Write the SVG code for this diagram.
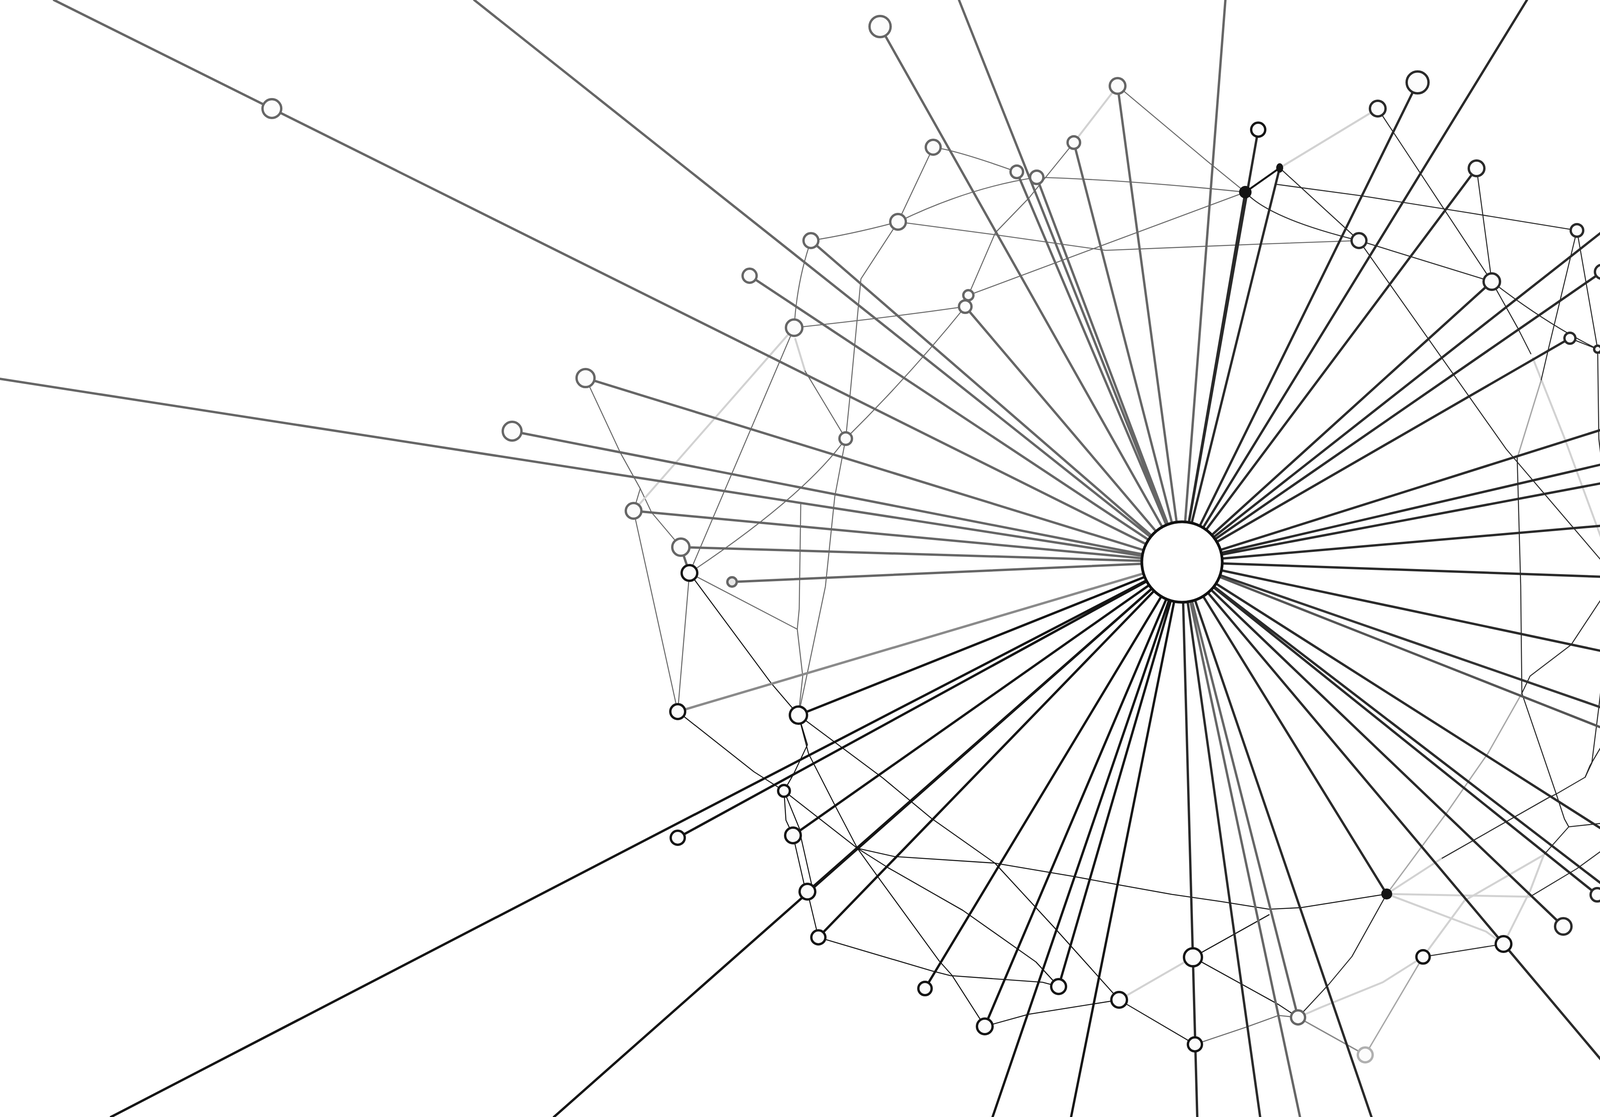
<svg xmlns="http://www.w3.org/2000/svg" width="5244" height="2860" viewBox="0 0 5244 2860">
<style>
.s{fill:none;stroke-linecap:round;stroke-linejoin:round}
.sg{stroke:#666;stroke-width:6}
.sd{stroke:#2a2a2a;stroke-width:6}
.sk{stroke:#151515;stroke-width:6}
.sl{stroke:#8a8a8a;stroke-width:6}
.eg{stroke:#6a6a6a;stroke-width:2.6}
.ed{stroke:#2a2a2a;stroke-width:2.6}
.ek{stroke:#151515;stroke-width:2.6}
.el{stroke:#d2d2d2;stroke-width:5}
.ea{stroke:#a8a8a8;stroke-width:3.5}
.n{stroke-width:6}
.ng{fill:#fcfcfc;stroke:#666}
.nd{fill:#fcfcfc;stroke:#2a2a2a}
.nk{fill:#fcfcfc;stroke:#151515}
.nb{fill:#151515;stroke:#151515}
.nl{fill:#fcfcfc;stroke:#b0b0b0}
</style>
<rect x="0" y="0" width="5244" height="2860" fill="#ffffff"/>
<g id="connectors">
<g id="web">
<path class="s eg" d="M2389 377Q2450 385 2603 440"/>
<path class="s eg" d="M2389 377L2299 568"/>
<path class="s eg" d="M2299 568Q2180 600 2076 616"/>
<path class="s eg" d="M2299 568Q2480 480 2654 454"/>
<path class="s eg" d="M2299 568L2540 600L2830 641L3225 625L3479 616"/>
<path class="s eg" d="M2076 616Q2040 720 2033 839"/>
<path class="s eg" d="M2033 839Q2260 815 2471 785"/>
<path class="s el" d="M2036 868L2061 950"/>
<path class="s eg" d="M2061 950L2165 1123"/>
<path class="s eg" d="M2033 839L1765 1467"/>
<path class="s eg" d="M2299 568L2204 714L2175 1024L2165 1123"/>
<path class="s eg" d="M2471 785Q2330 960 2165 1123"/>
<path class="s eg" d="M2749 365L2634 507L2548 596L2479 756"/>
<path class="s eg" d="M2861 220L3091 413L3188 492"/>
<path class="s eg" d="M2654 454Q2880 460 3188 492"/>
<path class="s eg" d="M2479 756L3188 492"/>
<path class="s eg" d="M1499 968L1588 1159L1639 1251L1668 1312L1743 1401"/>
<path class="s eg" d="M1639 1251L1622 1308"/>
<path class="s sg" d="M1743 1401L1765 1467"/>
<path class="s eg" d="M2165 1123Q2060 1270 1765 1467"/>
<path class="s eg" d="M1622 1308L1735 1822"/>
<path class="s eg" d="M1765 1467L1735 1822"/>
<path class="s eg" d="M2165 1123L2137 1272L2113 1502L2070 1708L2044 1831"/>
<path class="s eg" d="M2050 1290L2046 1559L2041 1611L2055 1731L2044 1831"/>
<path class="s eg" d="M1765 1467L2041 1611"/>
<path class="s el" d="M2861 220L2749 365"/>
<path class="s el" d="M2033 839L1622 1308"/>
<path class="s el" d="M3527 278L3276 430"/>
<path class="s ek" style="stroke-width:5" d="M3188 492L3276 430"/>
<path class="s ed" d="M3188 492Q3250 560 3479 616"/>
<path class="s ed" d="M3276 430L3479 616"/>
<path class="s ed" d="M3268 472L3483 501L3761 545L4037 590"/>
<path class="s ed" d="M3527 278L3819 721"/>
<path class="s ed" d="M3780 431L3819 721"/>
<path class="s ed" d="M3479 616L3819 721"/>
<path class="s ed" d="M3479 616L3856 1150L4136 1478"/>
<path class="s ed" d="M3819 721Q3960 830 4090 894"/>
<path class="s ed" d="M4037 590L4090 894"/>
<path class="s ed" d="M4090 894L4316 1032"/>
<path class="s ed" d="M4019 866L4090 894"/>
<path class="s ed" d="M4090 894L4261 1207"/>
<path class="s ed" d="M4316 1032L4261 1207"/>
<path class="s ed" d="M4316 1032L4317 1141"/>
<path class="s el" d="M4317 1160L4322 1296"/>
<path class="s ed" d="M4090 894L4093 1124L4136 1478"/>
<path class="s ed" d="M3819 721L3885 839L3919 906"/>
<path class="s el" d="M3924 917L4006 1124L4136 1478"/>
<path class="s ed" style="stroke-width:4.5" d="M4136 1478L4338 1502"/>
<path class="s ed" d="M4333 1326L4338 1502"/>
<path class="s ed" d="M4136 1478L4228 1694"/>
<path class="s ed" d="M4338 1502L4228 1694"/>
<path class="s ed" d="M4228 1694L4366 1917"/>
<path class="s ed" d="M4228 1694L4213 2096"/>
<path class="s ed" d="M4366 1917L4310 1954L4213 2096"/>
<path class="s ed" d="M4228 1694L4127 1864L4070 1961L4058 1990"/>
<path class="s ed" d="M4037 590L3965 889L3945 975"/>
<path class="s ea" d="M3945 975L3884 1173"/>
<path class="s ed" d="M3884 1173L3893 1500L3896 1775"/>
<path class="s ea" d="M3896 1775L3809 1929L3770 1985L3703 2082L3550 2289"/>
<path class="s ed" d="M3896 1775L3984 2033"/>
<path class="s ed" d="M4136 1478L4113 1731L4100 1750L4093 1811L4075 1954L4058 1990L3984 2033"/>
<path class="s ed" d="M3984 2033L3963 2043L3689 2199"/>
<path class="s el" d="M3689 2199L3550 2289"/>
<path class="s ed" d="M4136 1478L4022 1651L3917 1731L3896 1775"/>
<path class="s ed" d="M3984 2033L4005 2097L4016 2117L4213 2096"/>
<path class="s ed" d="M4213 2096L4037 2224L3917 2296"/>
<path class="s el" d="M3917 2296L3550 2289"/>
<path class="s el" d="M3550 2289L3804 2385L3849 2417"/>
<path class="s el" d="M3643 2450L3749 2306L3952 2189"/>
<path class="s ed" d="M3952 2189L4016 2117"/>
<path class="s el" d="M3849 2417L3917 2281L3952 2189"/>
<path class="s ed" d="M3849 2417L3643 2450"/>
<path class="s ea" d="M3643 2450L3495 2701"/>
<path class="s ea" style="stroke:#888" d="M3323 2605L3495 2701"/>
<path class="s el" d="M3643 2450L3540 2515L3380 2580L3323 2605"/>
<path class="s eg" d="M3323 2605L3273 2600L3190 2630L3059 2674"/>
<path class="s ek" d="M3054 2451L3273 2572L3323 2605"/>
<path class="s ek" d="M3054 2451L3249 2342"/>
<path class="s ed" d="M3323 2605L3402 2520L3461 2449L3550 2289"/>
<path class="s ek" d="M2195 2172L2289 2193L2547 2210L2748 2244L2872 2267L3000 2290L3124 2308L3249 2328L3330 2324L3550 2289"/>
<path class="s ek" d="M1735 1822L1930 1976L2007 2025"/>
<path class="s ek" d="M2044 1831L2067 1907L2032 1981L2007 2025"/>
<path class="s ek" d="M2044 1831L2260 1992L2384 2095L2547 2210L2700 2376L2865 2560"/>
<path class="s ek" d="M2007 2025L2012 2100L2030 2139"/>
<path class="s ek" d="M2007 2025L2050 2130"/>
<path class="s ek" d="M2030 2139L2060 2270"/>
<path class="s ek" d="M2050 2142L2079 2270"/>
<path class="s ek" d="M2067 2283L2095 2400"/>
<path class="s ek" d="M2007 2025L2195 2172"/>
<path class="s ek" d="M2044 1831L2070 1930L2140 2067L2195 2172"/>
<path class="s ek" d="M2195 2172L2251 2250L2404 2460L2437 2497L2521 2628"/>
<path class="s ek" d="M2195 2172L2274 2222L2465 2331L2652 2463L2710 2526"/>
<path class="s ek" d="M2095 2400L2386 2486L2433 2498L2669 2515L2710 2526"/>
<path class="s ek" d="M2521 2628L2633 2597L2865 2560"/>
<path class="s ek" d="M2865 2560L3059 2674"/>
<path class="s el" d="M2865 2560L3054 2451"/>
<path class="s ek" d="M1765 1467L1974 1749L2044 1831"/>
</g>
<g id="spokes">
<path class="s sg" d="M3026 1439L138 0M3026 1439L1214 0M3026 1439L2253 68M3026 1439L2455 0M3026 1439L2603 440M3026 1439L2654 454M3026 1439L2749 365M3026 1439L2861 220M3026 1439L3137 0M3026 1439L2076 616M3026 1439L1919 706M3026 1439L2471 785M3026 1439L1499 968M3026 1439L1311 1104M3026 1439L0 970M3026 1439L1622 1308M3026 1439L1743 1401M3026 1439L1874 1490M3026 1439L3323 2605M3026 1439L3328 2860"/>
<path class="s sl" d="M3026 1439L1735 1822"/>
<path class="s sd" d="M3026 1439L3221 332M3026 1439L3276 430M3026 1439L3188 492M3026 1439L3909 0M3026 1439L3629 211M3026 1439L3780 431M3026 1439L4856 0M3026 1439L3819 721M3026 1439L4101 696M3026 1439L4019 866M3026 1439L4316 1032M3026 1439L4261 1207M3026 1439L5244 923M3026 1439L4333 1326M3026 1439L4136 1478M3026 1439L4228 1694M3026 1439L4175 2170M3026 1439L4089 2291M3026 1439L4002 2372M3026 1439L4826 2820M3026 1439L4222 2860M3026 1439L3550 2289M3026 1439L3511 2860M3026 1439L3226 2860M3026 1439L3065 2860"/>
<path class="s sd" style="stroke:#333" d="M3026 1439L5244 2209"/>
<path class="s sd" style="stroke:#555" d="M3026 1439L4869 2167"/>
<path class="s sk" d="M3026 1439L2742 2860M3026 1439L2710 2526M3026 1439L2541 2860M3026 1439L2521 2628M3026 1439L2368 2531M3026 1439L1418 2860M3026 1439L2095 2400M3026 1439L2067 2283M3026 1439L2030 2139M3026 1439L284 2860M3026 1439L1735 2145M3026 1439L2044 1831"/>
</g>
</g>
<g id="nodes">
<g id="n-A"><circle class="n ng" cx="696" cy="278" r="24"/></g>
<g id="n-B"><circle class="n ng" cx="2253" cy="68" r="27"/></g>
<g id="n-BG"><circle class="n ng" cx="2389" cy="377" r="19"/></g>
<g id="n-BH"><circle class="n ng" cx="2603" cy="440" r="16"/></g>
<g id="n-BI"><circle class="n ng" cx="2654" cy="454" r="17"/></g>
<g id="n-BJ"><circle class="n ng" cx="2749" cy="365" r="16"/></g>
<g id="n-C"><circle class="n ng" cx="2861" cy="220" r="20"/></g>
<g id="n-D"><circle class="n nk" cx="3221" cy="332" r="18"/></g>
<g id="n-E"><circle class="n nb" cx="3188" cy="492" r="13"/></g>
<g id="n-E2"><ellipse class="n nb" cx="3276" cy="430" rx="6" ry="9"/></g>
<g id="n-F"><circle class="n nd" cx="3527" cy="278" r="20"/></g>
<g id="n-G"><circle class="n nd" cx="3629" cy="211" r="28"/></g>
<g id="n-H"><circle class="n nd" cx="3780" cy="431" r="20"/></g>
<g id="n-I"><circle class="n nd" cx="3479" cy="616" r="19"/></g>
<g id="n-J"><circle class="n nd" cx="4037" cy="590" r="16"/></g>
<g id="n-K"><circle class="n nd" cx="3819" cy="721" r="21"/></g>
<g id="n-L"><circle class="n nd" cx="4101" cy="696" r="18"/></g>
<g id="n-M"><circle class="n nd" cx="4019" cy="866" r="14"/></g>
<g id="n-N"><circle class="n nd" cx="4090" cy="894" r="9"/></g>
<g id="n-O"><circle class="n nd" cx="4316" cy="1032" r="8"/></g>
<g id="n-P"><circle class="n nd" cx="4261" cy="1207" r="21"/></g>
<g id="n-Q"><circle class="n nd" cx="4333" cy="1326" r="21"/></g>
<g id="n-R"><circle class="n nd" cx="4136" cy="1478" r="22"/></g>
<g id="n-S"><circle class="n nd" cx="4338" cy="1502" r="24"/></g>
<g id="n-T"><circle class="n nd" cx="4228" cy="1694" r="19"/></g>
<g id="n-U"><circle class="n nd" cx="4366" cy="1917" r="19"/></g>
<g id="n-V"><circle class="n nd" cx="4739" cy="2034" r="28"/></g>
<g id="n-W"><circle class="n nd" cx="4869" cy="2167" r="24"/></g>
<g id="n-X"><circle class="n nd" cx="4213" cy="2096" r="19"/></g>
<g id="n-Y"><circle class="n nd" cx="4175" cy="2170" r="15"/></g>
<g id="n-Z"><circle class="n nd" cx="4089" cy="2291" r="17"/></g>
<g id="n-AA"><circle class="n nd" cx="4002" cy="2372" r="21"/></g>
<g id="n-AB"><circle class="n nk" cx="3849" cy="2417" r="20"/></g>
<g id="n-AC"><circle class="n nb" cx="3550" cy="2289" r="11"/></g>
<g id="n-AD"><circle class="n nk" cx="3643" cy="2450" r="17"/></g>
<g id="n-AE"><circle class="n ng" cx="3323" cy="2605" r="18"/></g>
<g id="n-AF"><circle class="n nl" cx="3495" cy="2701" r="19"/></g>
<g id="n-AG"><circle class="n nk" cx="3054" cy="2451" r="23"/></g>
<g id="n-AH"><circle class="n nk" cx="3059" cy="2674" r="18"/></g>
<g id="n-AI"><circle class="n nk" cx="2865" cy="2560" r="20"/></g>
<g id="n-AJ"><circle class="n nk" cx="2710" cy="2526" r="19"/></g>
<g id="n-AK"><circle class="n nk" cx="2521" cy="2628" r="20"/></g>
<g id="n-AL"><circle class="n nk" cx="2368" cy="2531" r="17"/></g>
<g id="n-AM"><circle class="n nk" cx="2095" cy="2400" r="18"/></g>
<g id="n-AN"><circle class="n nk" cx="2067" cy="2283" r="20"/></g>
<g id="n-AO"><circle class="n nk" cx="2030" cy="2139" r="20"/></g>
<g id="n-AP"><circle class="n nk" cx="2007" cy="2025" r="15"/></g>
<g id="n-AQ"><circle class="n nk" cx="1735" cy="2145" r="18"/></g>
<g id="n-AR"><circle class="n nk" cx="2044" cy="1831" r="22"/></g>
<g id="n-AS"><circle class="n nk" cx="1735" cy="1822" r="19"/></g>
<g id="n-AT"><circle class="n nk" cx="1765" cy="1467" r="20"/></g>
<g id="n-AU"><circle class="n ng" style="fill:#e6e6e6" cx="1874" cy="1490" r="12"/></g>
<g id="n-AV"><circle class="n ng" cx="1743" cy="1401" r="22"/></g>
<g id="n-AW"><circle class="n ng" cx="1622" cy="1308" r="20"/></g>
<g id="n-AX"><circle class="n ng" cx="1311" cy="1104" r="24"/></g>
<g id="n-AY"><circle class="n ng" cx="1499" cy="968" r="23"/></g>
<g id="n-AZ"><circle class="n ng" cx="1919" cy="706" r="18"/></g>
<g id="n-BA"><circle class="n ng" cx="2033" cy="839" r="21"/></g>
<g id="n-BB"><circle class="n ng" cx="2165" cy="1123" r="16"/></g>
<g id="n-BC"><circle class="n ng" cx="2076" cy="616" r="19"/></g>
<g id="n-BD"><circle class="n ng" cx="2299" cy="568" r="20"/></g>
<g id="n-BE"><circle class="n ng" cx="2479" cy="756" r="13"/></g>
<g id="n-BF"><circle class="n ng" cx="2471" cy="785" r="16"/></g>
<g id="n-N1"><circle class="n nk" cx="4826" cy="2820" r="20"/></g>
<g id="hub"><circle cx="3026" cy="1439" r="103" fill="#ffffff" stroke="#111111" stroke-width="7"/></g>
</g>
</svg>
